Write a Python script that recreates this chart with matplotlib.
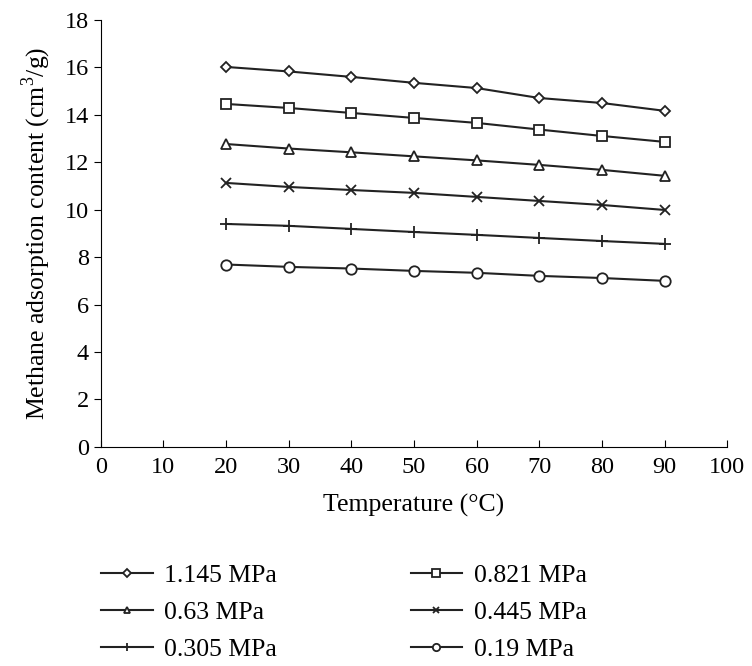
import matplotlib
matplotlib.use("Agg")
from matplotlib import pyplot as plt

plt.rcParams['font.family'] = ['Liberation Serif', 'DejaVu Serif']
plt.rcParams['mathtext.fontset'] = 'custom'
plt.rcParams['mathtext.rm'] = 'Liberation Serif'

temps = [20, 30, 40, 50, 60, 70, 80, 90]
p1145 = [16.02, 15.83, 15.60, 15.35, 15.13, 14.71, 14.50, 14.17]
p0821 = [14.46, 14.29, 14.08, 13.87, 13.66, 13.38, 13.11, 12.86]
p063 = [12.77, 12.58, 12.42, 12.25, 12.08, 11.89, 11.68, 11.43]
p0445 = [11.13, 10.96, 10.83, 10.71, 10.54, 10.37, 10.20, 9.99]
p0305 = [9.40, 9.32, 9.19, 9.06, 8.94, 8.81, 8.68, 8.56]
p019 = [7.69, 7.59, 7.52, 7.42, 7.34, 7.21, 7.12, 7.00]

series = [p1145, p0821, p063, p0445, p0305, p019]
labels = ["1.145 MPa", "0.821 MPa", "0.63 MPa", "0.445 MPa", "0.305 MPa", "0.19 MPa"]
markers = ["D", "s", "^", "x", "+", "o"]
sizes = [5.5, 7.5, 7, 7, 8, 7.5]

fig = plt.figure(figsize=(7.52, 6.66), dpi=100)
ax = fig.add_axes([0.134, 0.329, 0.833, 0.641])

handles = {}
for y, label, m, s in zip(series, labels, markers, sizes):
    h, = ax.plot(temps, y, color='#222222', lw=1.5, marker=m, markersize=s,
                 markerfacecolor='white', markeredgecolor='#222222', markeredgewidth=1.3,
                 label=label)
    handles[label] = h

ax.set_xlim(0, 100)
ax.set_ylim(0, 18)
ax.set_xticks(range(0, 101, 10))
ax.set_yticks(range(0, 19, 2))
ax.spines['top'].set_visible(False)
ax.spines['right'].set_visible(False)
ax.tick_params(axis='x', direction='in', length=5, labelsize=17.5, pad=7)
ax.tick_params(axis='y', direction='out', length=5, labelsize=17.5)
ax.set_xlabel("Temperature (°C)", fontsize=18.5, labelpad=12)
ax.set_ylabel("Methane adsorption content (cm$^3$/g)", fontsize=18.5, labelpad=8)

order = ["1.145 MPa", "0.63 MPa", "0.305 MPa", "0.821 MPa", "0.445 MPa", "0.19 MPa"]
leg = fig.legend([handles[k] for k in order], order, ncol=2, loc='upper left',
                 bbox_to_anchor=(0.104, 0.1875), frameon=False, fontsize=18.5,
                 handlelength=2.0, handletextpad=0.45, columnspacing=5.2,
                 labelspacing=0.55, markerscale=0.7)

plt.savefig("out.png", dpi=100)
